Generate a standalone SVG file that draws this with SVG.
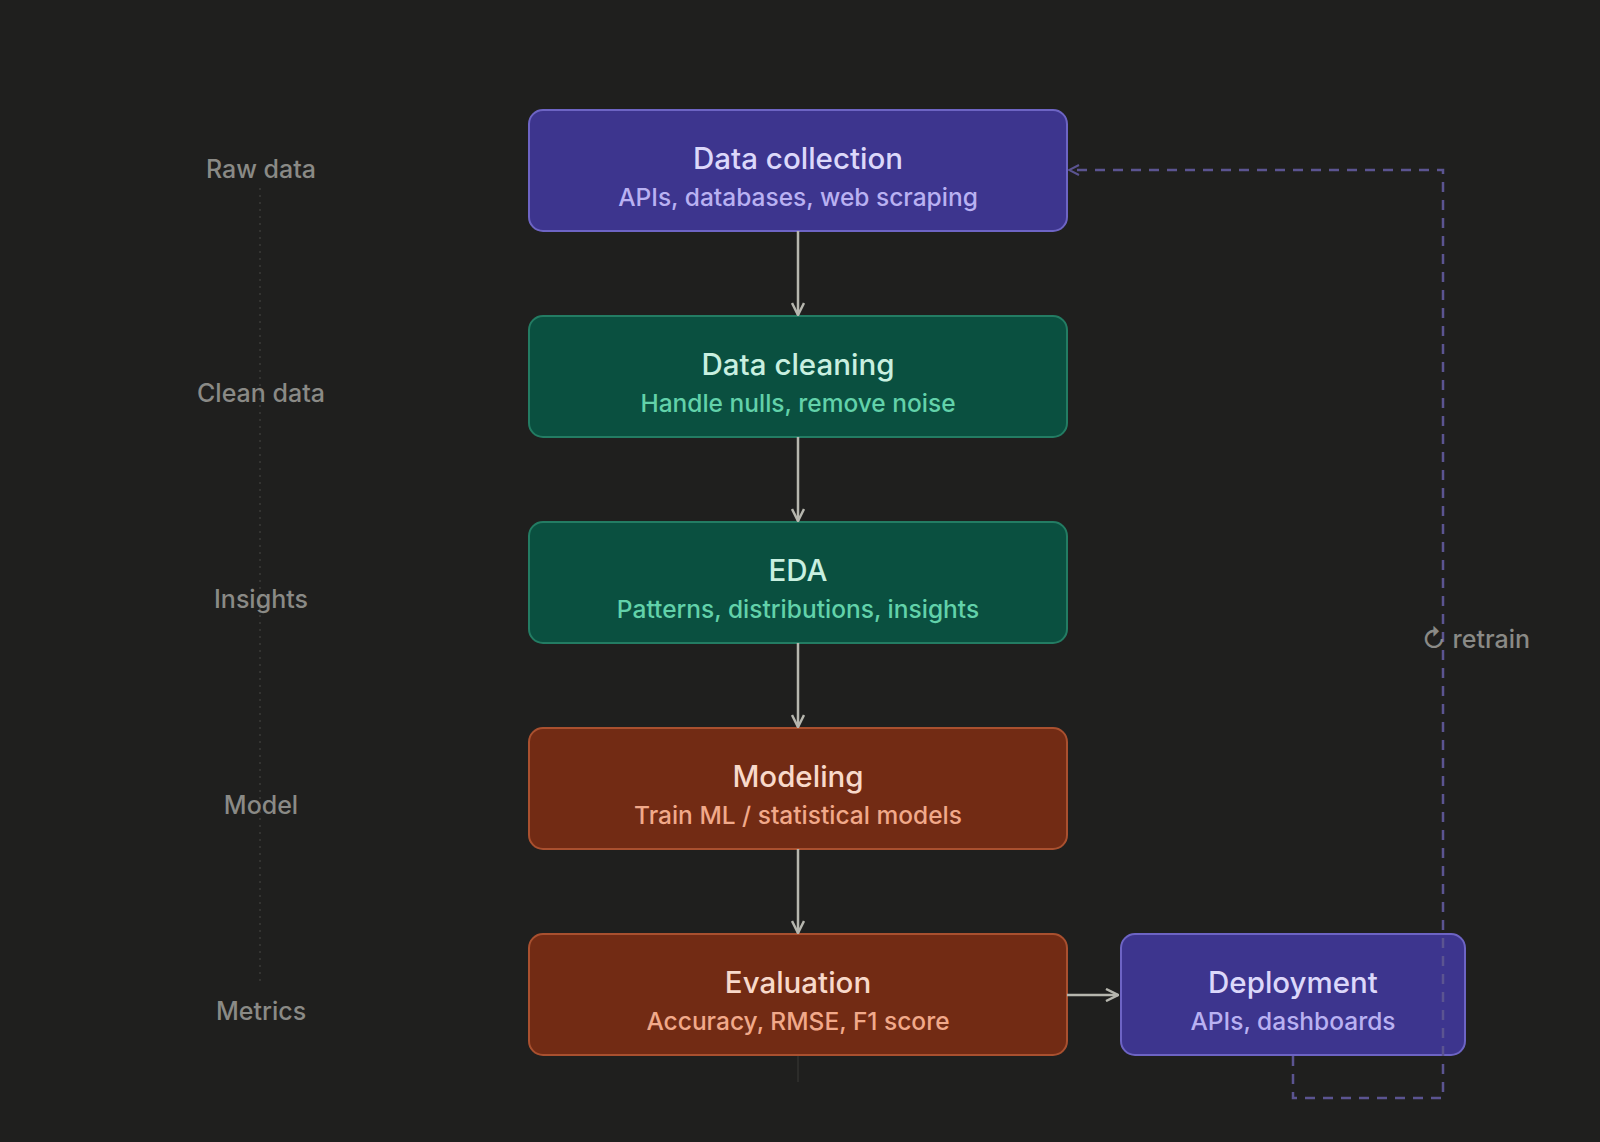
<svg xmlns="http://www.w3.org/2000/svg" width="1600" height="1142" viewBox="0 0 1600 1142">
<defs>
<style>
.bg{fill:#1f1f1e}
.lbl{font-family:Inter,"Noto Sans",sans-serif;font-size:25px;font-weight:500;fill:#8a8a86;text-anchor:middle}
.t{font-family:Inter,"Noto Sans",sans-serif;font-size:29.5px;font-weight:500;text-anchor:middle}
.s{font-family:Inter,"Noto Sans",sans-serif;font-size:24.5px;font-weight:500;text-anchor:middle}
.purple rect{fill:#3d358e;stroke:#6d64c4;stroke-width:2}
.purple .t{fill:#dcd8fa}.purple .s{fill:#b9b1f2}
.green rect{fill:#0a5040;stroke:#237c63;stroke-width:2}
.green .t{fill:#c9f0e0}.green .s{fill:#62d2aa}
.orange rect{fill:#722b14;stroke:#a9502f;stroke-width:2}
.orange .t{fill:#f8d9ca}.orange .s{fill:#f1a98a}
.arr{stroke:#b6b6ae;stroke-width:2.5;fill:none}
.dash{stroke:#5b5491;stroke-width:2.5;fill:none;stroke-dasharray:10 8}
</style>
<marker id="ah" viewBox="0 0 14 14" refX="13" refY="7" markerWidth="14" markerHeight="14" markerUnits="userSpaceOnUse" orient="auto">
<path d="M1,1 L13,7 L1,13" fill="none" stroke="#b6b6ae" stroke-width="2.5"/>
</marker>
<marker id="ahd" viewBox="0 0 12 12" refX="11" refY="6" markerWidth="12" markerHeight="12" markerUnits="userSpaceOnUse" orient="auto">
<path d="M1,1 L11,6 L1,11" fill="none" stroke="#5b5491" stroke-width="2"/>
</marker>
</defs>
<rect class="bg" x="0" y="0" width="1600" height="1142"/>
<g id="stage-labels">
<line x1="260" y1="188" x2="260" y2="985" stroke="#333331" stroke-width="2" stroke-dasharray="2 5"/>
<text class="lbl" x="261" y="178">Raw data</text>
<text class="lbl" x="261" y="402">Clean data</text>
<text class="lbl" x="261" y="608">Insights</text>
<text class="lbl" x="261" y="814">Model</text>
<text class="lbl" x="261" y="1020">Metrics</text>
</g>
<g id="node-collection" class="purple">
<rect x="529" y="110" width="538" height="121" rx="14"/>
<text class="t" x="798" y="169">Data collection</text>
<text class="s" x="798" y="206">APIs, databases, web scraping</text>
</g>
<g id="node-cleaning" class="green">
<rect x="529" y="316" width="538" height="121" rx="14"/>
<text class="t" x="798" y="375">Data cleaning</text>
<text class="s" x="798" y="412">Handle nulls, remove noise</text>
</g>
<g id="node-eda" class="green">
<rect x="529" y="522" width="538" height="121" rx="14"/>
<text class="t" x="798" y="581">EDA</text>
<text class="s" x="798" y="618">Patterns, distributions, insights</text>
</g>
<g id="node-modeling" class="orange">
<rect x="529" y="728" width="538" height="121" rx="14"/>
<text class="t" x="798" y="787">Modeling</text>
<text class="s" x="798" y="824">Train ML / statistical models</text>
</g>
<g id="node-evaluation" class="orange">
<rect x="529" y="934" width="538" height="121" rx="14"/>
<text class="t" x="798" y="993">Evaluation</text>
<text class="s" x="798" y="1030">Accuracy, RMSE, F1 score</text>
</g>
<g id="node-deployment" class="purple">
<rect x="1121" y="934" width="344" height="121" rx="14"/>
<text class="t" x="1293" y="993">Deployment</text>
<text class="s" x="1293" y="1030">APIs, dashboards</text>
</g>
<g id="connectors">
<line class="arr" x1="798" y1="231" x2="798" y2="315" marker-end="url(#ah)"/>
<line class="arr" x1="798" y1="437" x2="798" y2="521" marker-end="url(#ah)"/>
<line class="arr" x1="798" y1="643" x2="798" y2="727" marker-end="url(#ah)"/>
<line class="arr" x1="798" y1="849" x2="798" y2="933" marker-end="url(#ah)"/>
<line class="arr" x1="1067" y1="995" x2="1118" y2="995" marker-end="url(#ah)"/>
<line x1="798" y1="1056" x2="798" y2="1082" stroke="#2c2c2a" stroke-width="2"/>
<path class="dash" d="M1293,1056 V1098 H1443 V170 H1069" marker-end="url(#ahd)"/>
<text class="lbl" x="1476" y="648">↻ retrain</text>
</g>
</svg>
